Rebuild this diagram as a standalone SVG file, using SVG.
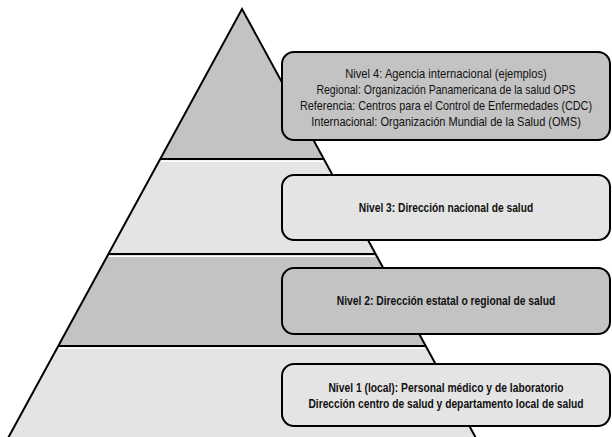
<svg xmlns="http://www.w3.org/2000/svg" width="612" height="437" viewBox="0 0 612 437">
<style>
.dark{fill:#c3c3c3}
.light{fill:#e4e4e4}
.edge{stroke:#000;stroke-width:2;fill:none}
.hl{stroke:#fff;stroke-width:1.5;fill:none}
.box{stroke:#000;stroke-width:2}
.t{font-family:"Liberation Sans",Arial,sans-serif;font-size:12.5px;fill:#111;text-anchor:middle}
.b{font-weight:bold}
</style>
<rect width="612" height="437" fill="#fff"/>
<g id="pyramid">
<polygon class="dark" points="242,9 323.9,159 160.1,159"/>
<polygon class="light" points="160.1,159 323.9,159 375.8,254 108.2,254"/>
<polygon class="dark" points="108.2,254 375.8,254 426,346 58,346"/>
<polygon class="light" points="58,346 426,346 477,440 7,440"/>
<line class="hl" x1="161" y1="161.2" x2="323" y2="161.2"/>
<line class="hl" x1="109" y1="256.2" x2="375" y2="256.2"/>
<line class="hl" x1="59" y1="348.2" x2="425" y2="348.2"/>
<line class="edge" x1="160.1" y1="159" x2="323.9" y2="159"/>
<line class="edge" x1="108.2" y1="254" x2="375.8" y2="254"/>
<line class="edge" x1="58" y1="346" x2="426" y2="346"/>
<polyline class="edge" points="7,440 242,9 477,440" stroke-linejoin="miter"/>
</g>
<g id="nivel4">
<rect class="box dark" x="282" y="52" width="328" height="88" rx="12"/>
<text class="t" transform="translate(446,78) scale(0.8,1)" textLength="252" lengthAdjust="spacingAndGlyphs">Nivel 4: Agencia internacional (ejemplos)</text>
<text class="t" transform="translate(446,94) scale(0.8,1)" textLength="324" lengthAdjust="spacingAndGlyphs">Regional: Organización Panamericana de la salud OPS</text>
<text class="t" transform="translate(446,110) scale(0.8,1)" textLength="365" lengthAdjust="spacingAndGlyphs">Referencia: Centros para el Control de Enfermedades (CDC)</text>
<text class="t" transform="translate(446,126) scale(0.8,1)" textLength="337" lengthAdjust="spacingAndGlyphs">Internacional: Organización Mundial de la Salud (OMS)</text>
</g>
<g id="nivel3">
<rect class="box light" x="282" y="175" width="328" height="65" rx="12"/>
<text class="t b" transform="translate(446,212) scale(0.8,1)" textLength="218" lengthAdjust="spacingAndGlyphs">Nivel 3: Dirección nacional de salud</text>
</g>
<g id="nivel2">
<rect class="box dark" x="282" y="268" width="328" height="66" rx="12"/>
<text class="t b" transform="translate(446,305) scale(0.8,1)" textLength="273" lengthAdjust="spacingAndGlyphs">Nivel 2: Dirección estatal o regional de salud</text>
</g>
<g id="nivel1">
<rect class="box light" x="282" y="364" width="328" height="62" rx="12"/>
<text class="t b" transform="translate(446,392) scale(0.8,1)" textLength="294" lengthAdjust="spacingAndGlyphs">Nivel 1 (local): Personal médico y de laboratorio</text>
<text class="t b" transform="translate(446,408) scale(0.8,1)" textLength="344" lengthAdjust="spacingAndGlyphs">Dirección centro de salud y departamento local de salud</text>
</g>
</svg>
